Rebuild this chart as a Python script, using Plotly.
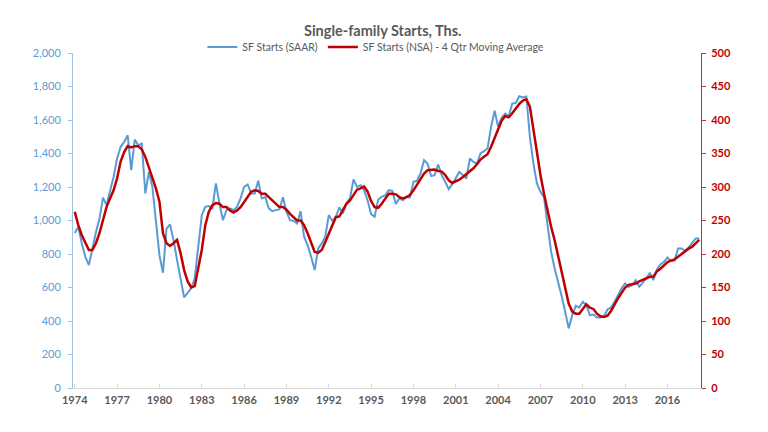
import plotly.graph_objects as go

# Quarterly categories 1974Q1 .. 2018Q2
years = list(range(1974, 2019))
quarters = [f"{y}Q{q}" for y in years for q in (1, 2, 3, 4)][:178]

# SF Starts (SAAR), thousands - left axis
sf_saar = [
    926, 962, 863, 783, 734, 840, 930, 1010, 1137, 1092, 1181, 1260,
    1370, 1440, 1469, 1509, 1300, 1483, 1449, 1459, 1161, 1290, 1201, 1002,
    793, 688, 952, 976, 883, 763, 644, 541, 568, 595, 654, 843,
    1032, 1082, 1086, 1072, 1221, 1101, 1002, 1062, 1072, 1062, 1082, 1132,
    1201, 1215, 1161, 1161, 1237, 1132, 1141, 1072, 1056, 1062, 1066, 1139,
    1052, 1002, 998, 982, 1056, 903, 853, 783, 704, 833, 863, 903,
    1032, 998, 1022, 1078, 1042, 1101, 1132, 1245, 1201, 1211, 1181, 1121,
    1038, 1022, 1125, 1141, 1151, 1181, 1177, 1098, 1132, 1121, 1141, 1137,
    1231, 1237, 1281, 1360, 1340, 1265, 1271, 1334, 1271, 1231, 1187, 1217,
    1251, 1290, 1271, 1251, 1370, 1350, 1340, 1400, 1414, 1430, 1559, 1655,
    1560, 1615, 1638, 1622, 1698, 1702, 1742, 1735, 1740, 1499, 1340, 1221,
    1171, 1138, 975, 815, 715, 640, 550, 455, 356, 435, 490, 481,
    515, 495, 435, 439, 421, 421, 429, 469, 481, 515, 555, 595,
    624, 604, 614, 644, 604, 628, 654, 688, 644, 708, 738, 753,
    779, 759, 759, 833, 833, 819, 839, 867, 893, 893,
]

# SF Starts (NSA) - 4 quarter moving average, thousands - right axis
sf_nsa_ma4 = [
    263, 243, 228, 216, 206, 206, 216, 231, 250, 270, 283, 295,
    313, 338, 352, 361, 359, 361, 361, 356, 345, 330, 315, 298,
    278, 231, 216, 212, 216, 221, 201, 176, 159, 150, 152, 178,
    206, 243, 263, 273, 276, 275, 270, 270, 265, 262, 265, 270,
    278, 285, 293, 295, 294, 290, 290, 285, 280, 274, 270, 270,
    266, 260, 255, 250, 250, 243, 231, 216, 203, 202, 206, 218,
    231, 243, 255, 256, 265, 275, 280, 288, 296, 298, 301, 293,
    279, 270, 269, 275, 283, 290, 290, 289, 285, 283, 285, 288,
    295, 304, 313, 320, 325, 326, 326, 324, 323, 318, 310, 306,
    308, 311, 315, 319, 323, 328, 334, 341, 345, 349, 360, 373,
    386, 399, 406, 404, 410, 417, 424, 429, 431, 420, 385, 350,
    318, 290, 265, 241, 221, 196, 171, 146, 126, 114, 111, 111,
    118, 125, 120, 118, 111, 107, 106, 108, 115, 125, 134, 142,
    150, 154, 155, 156, 159, 161, 164, 166, 166, 174, 178, 183,
    188, 190, 192, 196, 200, 205, 208, 211, 216, 221,
]

tick_years = ["1974", "1977", "1980", "1983", "1986", "1989", "1992", "1995",
              "1998", "2001", "2004", "2007", "2010", "2013", "2016"]
tick_cats = [y + "Q1" for y in tick_years]

BLUE = "#5B9BD5"
RED = "#C00000"
GRAY = "#595959"
FONT = "Lato"

fig = go.Figure()
fig.add_trace(go.Scatter(
    x=quarters, y=sf_saar, name="SF Starts (SAAR)", mode="lines",
    line=dict(color=BLUE, width=2), yaxis="y"))
fig.add_trace(go.Scatter(
    x=quarters, y=sf_nsa_ma4, name="SF Starts (NSA) - 4 Qtr Moving Average",
    mode="lines", line=dict(color=RED, width=2.5), yaxis="y2"))

fig.update_layout(
    width=768, height=432,
    margin=dict(l=65, r=75, t=45, b=52, autoexpand=False),
    paper_bgcolor="white", plot_bgcolor="white",
    font=dict(family=FONT, color=GRAY, size=11),
    title=dict(text="<b>Single-family Starts, Ths.</b>", x=0.488, xanchor="center",
               y=1 - 23 / 432, yanchor="middle", yref="container",
               font=dict(size=14.5, color=GRAY, family=FONT)),
    legend=dict(orientation="h", x=0.479, xanchor="center", xref="container",
                y=1 - 39 / 432, yanchor="middle", yref="container",
                font=dict(size=10.5, color=GRAY, family=FONT),
                itemwidth=30, bgcolor="rgba(0,0,0,0)", traceorder="normal"),
    showlegend=True,
    xaxis=dict(type="category", categoryorder="array", categoryarray=quarters,
               range=[-0.5, len(quarters) - 0.5],
               tickmode="array", tickvals=tick_cats, ticktext=tick_years,
               showgrid=False, zeroline=False,
               showline=True, linecolor="#D9D9D9", linewidth=1,
               ticks="inside", ticklen=4, tickcolor="#D9D9D9",
               tickfont=dict(size=11, color=GRAY, family=FONT, weight="bold"),
               ticklabelstandoff=2),
    yaxis=dict(range=[0, 2000], dtick=200, tickformat=",",
               showgrid=False, zeroline=False,
               showline=True, linecolor="#9DC3E6", linewidth=1,
               ticks="outside", ticklen=4, tickcolor="#9DC3E6",
               ticklabelstandoff=5,
               tickfont=dict(size=11, color=BLUE, family=FONT)),
    yaxis2=dict(range=[0, 500], dtick=50, overlaying="y", side="right",
                showgrid=False, zeroline=False,
                showline=True, linecolor="#B03A3A", linewidth=1,
                ticks="outside", ticklen=4, tickcolor="#B03A3A",
                ticklabelstandoff=3,
                tickfont=dict(size=11, color=RED, family=FONT, weight="bold")),
)

fig.write_html("out.html")
